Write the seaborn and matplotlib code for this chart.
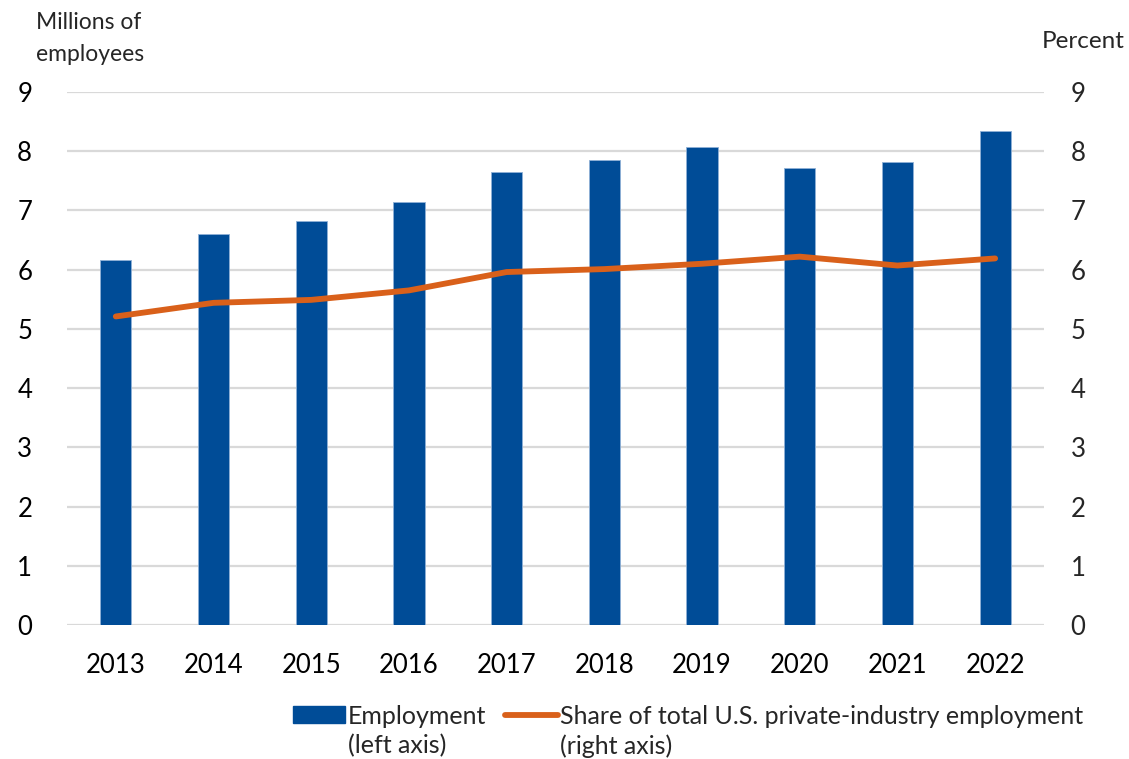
import numpy as np
import pandas as pd
import matplotlib
matplotlib.use("Agg")
import matplotlib.pyplot as plt
import seaborn as sns
from matplotlib.patches import Patch
from matplotlib.lines import Line2D

# data
years = ['2013', '2014', '2015', '2016', '2017', '2018', '2019', '2020', '2021', '2022']
employment = [6.17, 6.60, 6.82, 7.14, 7.65, 7.85, 8.07, 7.71, 7.81, 8.34]   # millions (left axis)
share = [5.21, 5.44, 5.49, 5.65, 5.96, 6.01, 6.10, 6.22, 6.07, 6.19]        # percent (right axis)
yticks = list(range(0, 10))

bar_color = '#004C97'
line_color = '#D9601A'
grid_color = '#D9D9D9'

df = pd.DataFrame({'Year': years, 'Employment': employment, 'Share': share})

sns.set_style("white")
plt.rcParams['font.family'] = ['Lato', 'DejaVu Sans']

fig = plt.figure(figsize=(11.29, 7.59), dpi=100)
ax = fig.add_axes([0.0593, 0.1765, 0.8654, 0.7023])

sns.barplot(data=df, x='Year', y='Employment', color=bar_color, width=0.32,
            edgecolor='#8FB0D6', linewidth=0.6, saturation=1, ax=ax)
ax.set_xlim(-0.5, len(years) - 0.5)
ax.set_ylim(0, 9)
ax.set_yticks(yticks)
ax.yaxis.grid(True, color=grid_color, linewidth=1.6)
ax.set_axisbelow(True)
ax.set_xlabel('')
ax.set_ylabel('')
ax.tick_params(axis='both', length=0, labelsize=18.5, colors='black')
ax.tick_params(axis='y', pad=25)
ax.tick_params(axis='x', pad=20)
for s in ax.spines.values():
    s.set_visible(False)

ax2 = ax.twinx()
sns.lineplot(x=np.arange(len(years)), y=df['Share'], color=line_color, linewidth=4.2,
             solid_capstyle='round', ax=ax2)
ax2.set_ylim(0, 9)
ax2.set_yticks(yticks)
ax2.set_ylabel('')
ax2.tick_params(axis='y', length=0, labelsize=18.5, pad=19)
for s in ax2.spines.values():
    s.set_visible(False)

# axis titles
fig.text(0.032, 0.915, 'Millions of\nemployees', fontsize=16.5, ha='left', va='bottom', linespacing=1.6)
fig.text(0.923, 0.932, 'Percent', fontsize=17.5, ha='left', va='bottom')

# legend at the bottom, first lines only; second lines added underneath
handles = [Patch(facecolor=bar_color, edgecolor=bar_color),
           Line2D([0], [0], color=line_color, linewidth=4.2, solid_capstyle='round')]
labels = ['Employment', 'Share of total U.S. private-industry employment']
leg = fig.legend(handles, labels, loc='center left', bbox_to_anchor=(0.2595, 0.0565), ncol=2,
                 frameon=False, fontsize=18, handlelength=2.1, handleheight=0.65,
                 handletextpad=0.1, columnspacing=0.75, borderaxespad=0, borderpad=0)
fig.canvas.draw()
inv = fig.transFigure.inverted()
for t, extra in zip(leg.get_texts(), ['(left axis)', '(right axis)']):
    bb = t.get_window_extent()
    x0 = inv.transform((bb.x0, bb.y0))[0]
    fig.text(x0, 0.017, extra, fontsize=18, ha='left', va='center')

fig.savefig('out.png', dpi=100)
